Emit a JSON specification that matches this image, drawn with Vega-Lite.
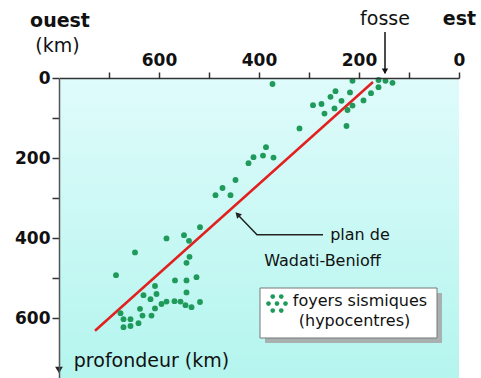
{
  "$schema": "https://vega.github.io/schema/vega-lite/v6.json",
  "width": 400,
  "height": 300,
  "autosize": "none",
  "padding": {"left": 59, "top": 78, "right": 22, "bottom": 0},
  "background": "white",
  "config": {"view": {"stroke": null}, "font": "DejaVu Sans"},
  "encoding": {
    "x": {"field": "x", "type": "quantitative",
      "scale": {"domain": [0, 800], "reverse": true, "nice": false},
      "axis": {"orient": "top", "values": [0,100,200,300,400,500,600,700],
        "labelExpr": "(datum.value % 200 == 0) ? datum.label : ''",
        "title": null, "grid": false, "tickSize": 6, "tickWidth": 1.5, "tickColor": "#333",
        "domainColor": "#333", "domainWidth": 1.5, "labelFont": "DejaVu Sans", "labelFontSize": 17,
        "labelFontWeight": "bold", "labelColor": "#111", "labelPadding": 3, "labelFlush": false,
        "labelOverlap": false, "zindex": 1}},
    "y": {"field": "y", "type": "quantitative",
      "scale": {"domain": [0, 750], "reverse": true, "nice": false},
      "axis": {"orient": "left", "values": [0,100,200,300,400,500,600],
        "labelExpr": "(datum.value % 200 == 0) ? datum.label : ''",
        "title": null, "grid": false, "tickSize": 7, "tickWidth": 1.5, "tickColor": "#333",
        "domainColor": "#555", "domainWidth": 1.5, "labelFont": "DejaVu Sans", "labelFontSize": 17,
        "labelFontWeight": "bold", "labelColor": "#111", "labelPadding": 2, "labelFlush": false,
        "labelOverlap": false, "zindex": 1}}
  },
  "layer": [
    {
      "data": {"values": [{"x": 0, "x2": 800, "y": 0, "y2": 750}]},
      "mark": {"type": "rect", "color": {"gradient": "linear", "x1": 0, "y1": 0, "x2": 0, "y2": 1,
        "stops": [{"offset": 0, "color": "#dffbfb"}, {"offset": 1, "color": "#b4f5ee"}]}},
      "encoding": {"x2": {"field": "x2"}, "y2": {"field": "y2"}}
    },
    {
      "data": {"values": [{"x": 172, "y": 10}, {"x": 728, "y": 632}]},
      "mark": {"type": "line", "color": "#e2201f", "strokeWidth": 2.5},
      "encoding": {}
    },
    {
      "data": {"values": [
        {"x":373,"y":15},{"x":213,"y":7},{"x":161,"y":5},{"x":147,"y":7},{"x":133,"y":12},
        {"x":161,"y":23},{"x":176,"y":38},{"x":191,"y":56},{"x":218,"y":36},{"x":247,"y":33},
        {"x":257,"y":47},{"x":235,"y":57},{"x":213,"y":69},{"x":223,"y":80},{"x":249,"y":76},
        {"x":275,"y":65},{"x":292,"y":68},{"x":269,"y":89},{"x":225,"y":120},{"x":319,"y":126},
        {"x":386,"y":173},{"x":392,"y":194},{"x":371,"y":199},{"x":411,"y":198},{"x":421,"y":213},
        {"x":447,"y":255},{"x":473,"y":275},{"x":457,"y":293},{"x":487,"y":293},
        {"x":518,"y":373},{"x":550,"y":393},{"x":585,"y":401},{"x":540,"y":407},{"x":648,"y":436},
        {"x":539,"y":447},{"x":545,"y":462},{"x":686,"y":493},{"x":525,"y":498},{"x":545,"y":506},
        {"x":568,"y":506},{"x":608,"y":520},{"x":545,"y":536},{"x":605,"y":540},{"x":631,"y":543},
        {"x":617,"y":553},{"x":518,"y":560},{"x":595,"y":565},{"x":585,"y":559},{"x":569,"y":558},
        {"x":557,"y":559},{"x":547,"y":568},{"x":535,"y":573},{"x":608,"y":576},{"x":638,"y":577},
        {"x":677,"y":588},{"x":633,"y":594},{"x":615,"y":594},{"x":657,"y":603},{"x":671,"y":603},
        {"x":641,"y":613},{"x":657,"y":620},{"x":671,"y":623}
      ]},
      "mark": {"type": "circle", "color": "#1f9a5a", "size": 34, "opacity": 1}
    },
    {
      "data": {"values": [{"x": 388, "x2": 34, "y": 537.5, "y2": 662.5}]},
      "mark": {"type": "rect", "color": "#a4a4a4", "opacity": 0.85},
      "encoding": {"x2": {"field": "x2"}, "y2": {"field": "y2"}}
    },
    {
      "data": {"values": [{"x": 398, "x2": 44, "y": 525, "y2": 650}]},
      "mark": {"type": "rect", "fill": "white", "stroke": "#777", "strokeWidth": 1},
      "encoding": {"x2": {"field": "x2"}, "y2": {"field": "y2"}}
    },
    {
      "data": {"values": [
        {"x":381,"y":564},{"x":364,"y":564},{"x":347,"y":564},
        {"x":372.5,"y":546.5},{"x":355.5,"y":546.5},{"x":372.5,"y":581.5},{"x":355.5,"y":581.5}
      ]},
      "mark": {"type": "circle", "color": "#1f9a5a", "size": 22, "opacity": 1}
    },
    {
      "data": {"values": [{"x": 272, "y": 392, "o": 1}, {"x": 404, "y": 392, "o": 2}, {"x": 440, "y": 345, "o": 3}]},
      "mark": {"type": "line", "color": "#222", "strokeWidth": 1.5},
      "encoding": {"order": {"field": "o"}}
    },
    {
      "data": {"values": [{"x": 443, "y": 341}]},
      "mark": {"type": "point", "shape": "triangle-up", "filled": true, "color": "#222", "size": 45, "angle": 316, "opacity": 1}
    },
    {
      "data": {"values": [{"x": 148, "y": -115, "y2": -12}]},
      "mark": {"type": "rule", "color": "#111", "strokeWidth": 1.5},
      "encoding": {"y2": {"field": "y2"}}
    },
    {
      "data": {"values": [{"x": 148, "y": -17}]},
      "mark": {"type": "point", "shape": "triangle-down", "filled": true, "color": "#111", "size": 40, "opacity": 1}
    },
    {
      "data": {"values": [{"x": 800, "y": 730}]},
      "mark": {"type": "point", "shape": "triangle-down", "filled": true, "color": "#222", "size": 60, "opacity": 1}
    },
    {
      "data": {"values": [{"x": 798, "y": -128, "t": "ouest"}, {"x": -1, "y": -132, "t": "est"}]},
      "mark": {"type": "text", "font": "DejaVu Sans", "fontSize": 19, "fontWeight": "bold", "color": "#111", "align": "center", "baseline": "alphabetic"},
      "encoding": {"text": {"field": "t"}}
    },
    {
      "data": {"values": [{"x": 148, "y": -132, "t": "fosse"}, {"x": 803, "y": -66, "t": "(km)"}, {"x": 615, "y": 722, "t": "profondeur (km)"}]},
      "mark": {"type": "text", "font": "DejaVu Sans", "fontSize": 19, "color": "#111", "align": "center", "baseline": "alphabetic"},
      "encoding": {"text": {"field": "t"}}
    },
    {
      "data": {"values": [
        {"x": 198, "y": 405, "t": "plan de"}, {"x": 273, "y": 470, "t": "Wadati-Benioff"},
        {"x": 198, "y": 570, "t": "foyers sismiques"}, {"x": 209, "y": 620, "t": "(hypocentres)"}
      ]},
      "mark": {"type": "text", "font": "DejaVu Sans", "fontSize": 16, "color": "#111", "align": "center", "baseline": "alphabetic"},
      "encoding": {"text": {"field": "t"}}
    }
  ]
}
